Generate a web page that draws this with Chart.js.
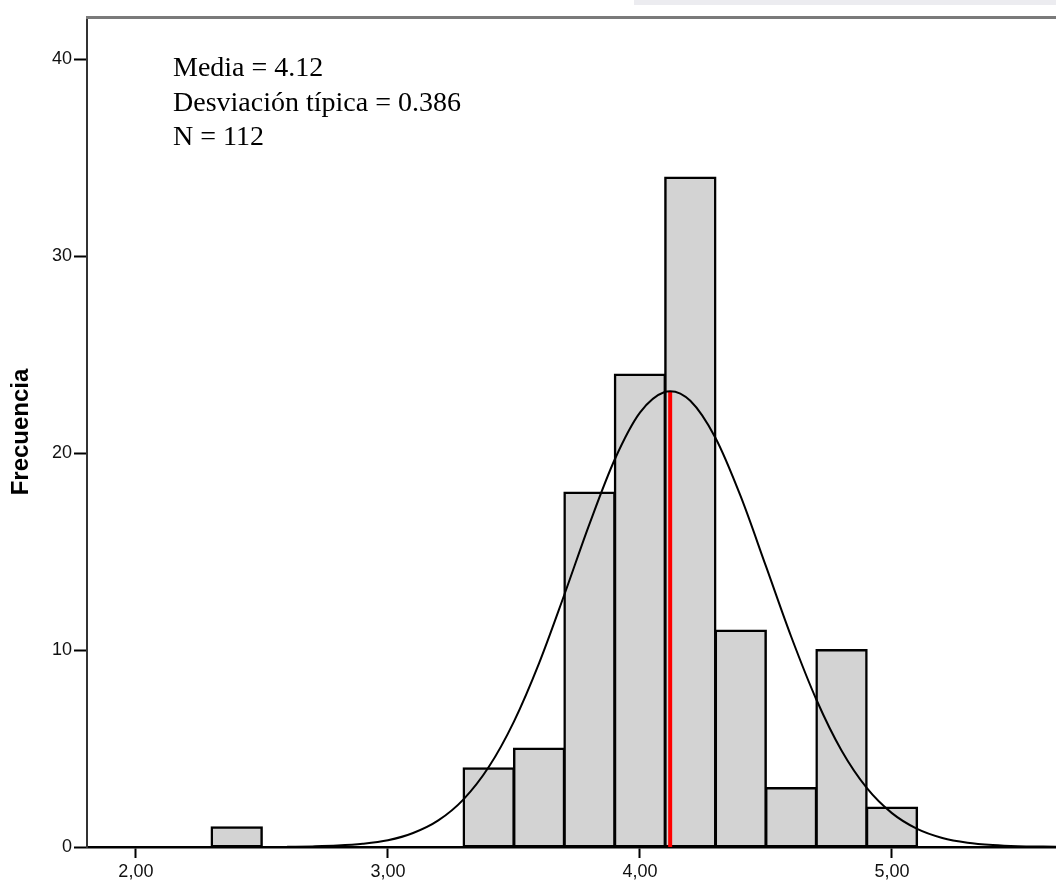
<!DOCTYPE html>
<html>
<head>
<meta charset="utf-8">
<script src="https://cdn.jsdelivr.net/npm/chart.js@4.4.1/dist/chart.umd.min.js"></script>
<style>
html,body{margin:0;padding:0;background:#fff;}
#wrap{position:relative;width:1056px;height:882px;}
</style>
</head>
<body>
<div id="wrap"><canvas id="c"></canvas></div>
<script>
// Histogram bins (centres) and counts
const binCenters = [2.4, 3.4, 3.6, 3.8, 4.0, 4.2, 4.4, 4.6, 4.8, 5.0];
const binCounts  = [1, 4, 5, 18, 24, 34, 11, 3, 10, 2];

// Normal curve
const curveX = [2.6, 2.7, 2.8, 2.9, 3.0, 3.1, 3.2, 3.3, 3.4, 3.5, 3.6, 3.7, 3.8, 3.9, 4.0, 4.1, 4.12, 4.2, 4.3, 4.4, 4.5, 4.6, 4.7, 4.8, 4.9, 5.0, 5.1, 5.2, 5.3, 5.4, 5.5, 5.6, 5.7];
const curveY = [0.01, 0.03, 0.07, 0.16, 0.34, 0.71, 1.35, 2.42, 4.06, 6.37, 9.34, 12.81, 16.41, 19.68, 22.06, 23.12, 23.15, 22.66, 20.77, 17.80, 14.26, 10.69, 7.49, 4.90, 3.00, 1.72, 0.92, 0.46, 0.22, 0.10, 0.04, 0.02, 0.01];

// Mean marker
const meanX = [4.12, 4.12];
const meanY = [0, 23.15];

// Ticks
const xTicks = [2, 3, 4, 5];
const yTicks = [0, 10, 20, 30, 40];

// Statistics text
const statLines = ["Media = 4.12", "Desviación típica = 0.386", "N = 112"];

const frame = {
  id: 'frame',
  beforeDraw(chart) {
    const {ctx} = chart;
    ctx.save();
    ctx.fillStyle = '#ececf0';
    ctx.fillRect(634, 0, chart.width - 634, 5);
    ctx.restore();
  },
  afterDraw(chart) {
    const {ctx, chartArea} = chart;
    ctx.save();
    ctx.strokeStyle = '#7a7a7a';
    ctx.lineWidth = 3;
    ctx.beginPath();
    ctx.moveTo(chartArea.left - 1, chartArea.top + 0.5);
    ctx.lineTo(chartArea.right, chartArea.top + 0.5);
    ctx.stroke();
    ctx.fillStyle = '#000';
    ctx.font = '28px "Liberation Serif", "Times New Roman", serif';
    ctx.textBaseline = 'alphabetic';
    ctx.textAlign = 'left';
    statLines.forEach((t, i) => {
      ctx.fillText(t, chartArea.left + 86, chartArea.top + 59 + i * 34.5);
    });
    ctx.restore();
  }
};

new Chart(document.getElementById('c'), {
  type: 'bar',
  data: {
    datasets: [
      {
        type: 'line',
        data: curveX.map((x, i) => ({x: x, y: curveY[i]})),
        borderColor: '#000',
        borderWidth: 2,
        pointRadius: 0,
        cubicInterpolationMode: 'monotone',
        fill: false,
        order: 0
      },
      {
        type: 'line',
        data: meanX.map((x, i) => ({x: x, y: meanY[i]})),
        borderColor: '#ff0000',
        borderWidth: 4,
        pointRadius: 0,
        fill: false,
        order: 1
      },
      {
        type: 'bar',
        data: binCenters.map((x, i) => ({x: x, y: binCounts[i]})),
        backgroundColor: '#d3d3d3',
        borderColor: '#000',
        borderWidth: 2.5,
        borderSkipped: false,
        inflateAmount: 1,
        barPercentage: 1,
        categoryPercentage: 1,
        order: 2
      }
    ]
  },
  options: {
    responsive: true,
    maintainAspectRatio: false,
    animation: false,
    layout: {padding: {top: 17, right: 0, left: 0, bottom: 0}},
    plugins: {legend: {display: false}, tooltip: {enabled: false}},
    scales: {
      x: {
        type: 'linear',
        offset: false,
        min: 1.806,
        max: 5.651,
        afterBuildTicks: s => { s.ticks = xTicks.map(v => ({value: v})); },
        afterFit: s => { s.height = 35; },
        grid: {offset: false, drawOnChartArea: false, drawTicks: true, tickLength: 11, tickWidth: 2, tickColor: '#000'},
        border: {display: true, color: '#000', width: 2.5},
        ticks: {
          padding: 3,
          color: '#111',
          font: {family: '"Liberation Sans", Arial, sans-serif', size: 18},
          callback: v => Number(v).toFixed(2).replace('.', ',')
        }
      },
      y: {
        type: 'linear',
        min: 0,
        max: 42.15,
        afterBuildTicks: s => { s.ticks = yTicks.map(v => ({value: v})); },
        afterFit: s => { s.width = 87; },
        grid: {drawOnChartArea: false, drawTicks: true, tickLength: 13, tickWidth: 2, tickColor: '#000'},
        border: {display: true, color: '#333', width: 2},
        ticks: {
          padding: 2,
          color: '#111',
          font: {family: '"Liberation Sans", Arial, sans-serif', size: 18},
          callback: v => String(v)
        },
        title: {
          display: true,
          text: 'Frecuencia',
          color: '#000',
          padding: {top: 7, bottom: 0},
          font: {family: '"Liberation Sans", Arial, sans-serif', size: 24, weight: 'bold'}
        }
      }
    }
  },
  plugins: [frame]
});
</script>
</body>
</html>
